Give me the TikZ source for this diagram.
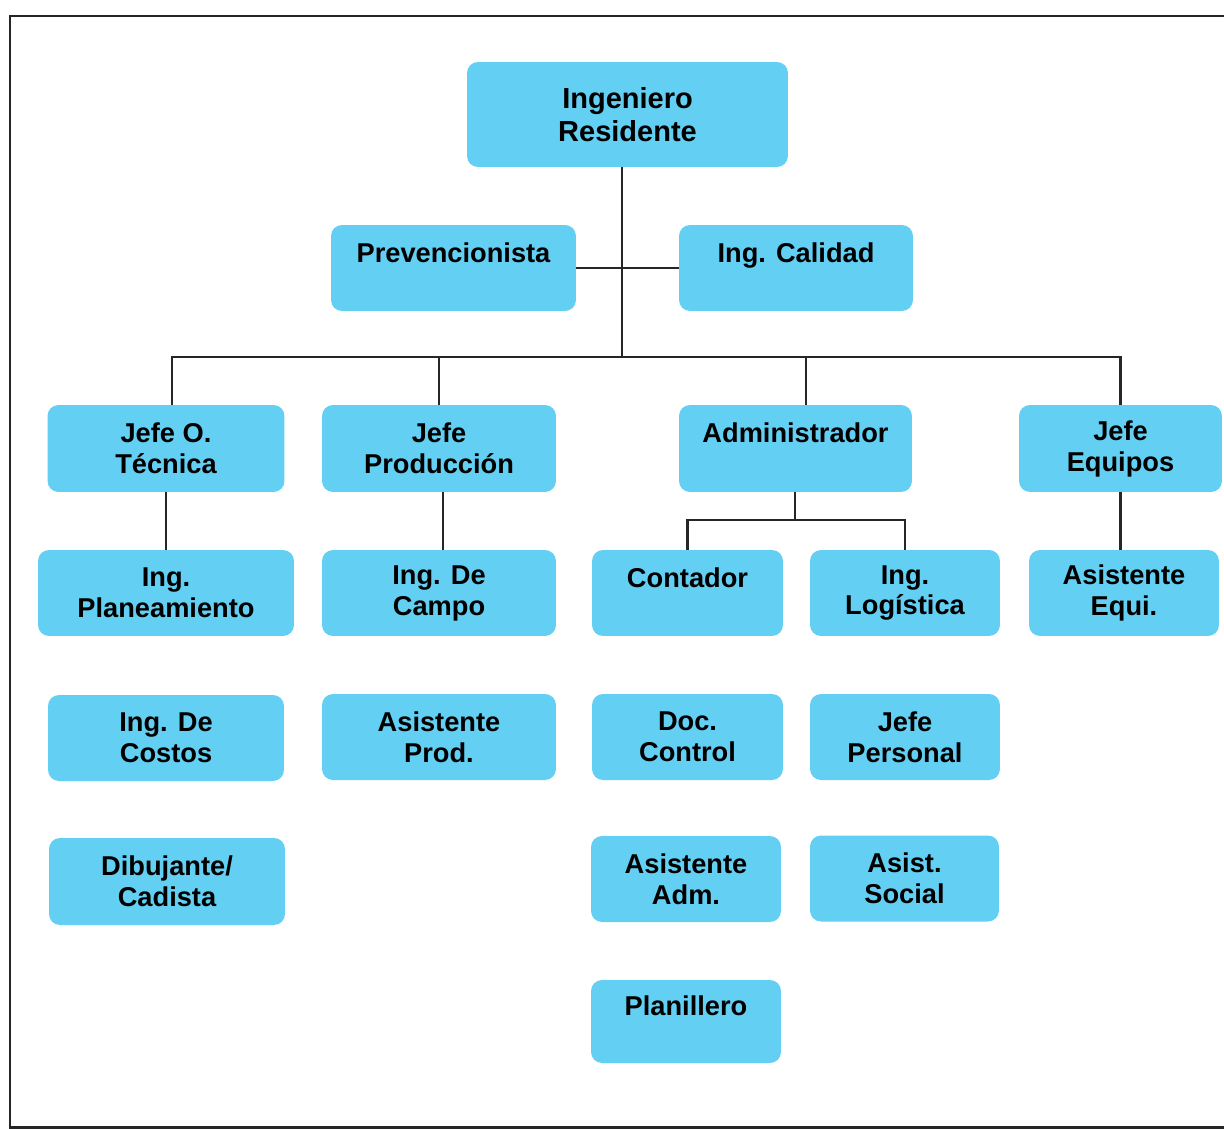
\documentclass[tikz,border=0pt]{standalone}
\usepackage{fontspec}
\setmainfont{Liberation Sans}
\usepackage{tikz}
\usetikzlibrary{positioning, calc}

\definecolor{boxblue}{RGB}{98,207,243}

\begin{document}
\begin{tikzpicture}[
  x=0.02cm, y=-0.02cm,
  box/.style={rectangle, rounded corners=0.22cm, fill=boxblue, align=center,
    minimum height=1.72cm, inner sep=0pt,
    font=\fontsize{15.5pt}{17.6pt}\selectfont\bfseries},
  link/.style={draw=black!85, line width=1.3pt},
  frame/.style={draw=black!85, line width=1.7pt}
]
  \useasboundingbox (0,0) rectangle (1224,1129);
  \draw[frame] (1224,16) -- (10,16) -- (10,1127) -- (1224,1127);

  % top
  \node[box, minimum width=6.42cm, minimum height=2.1cm,
        font=\fontsize{16.5pt}{18.8pt}\selectfont\bfseries]
        (res) at (627.5,114.5) {Ingeniero\\Residente};
  \node[box, minimum width=4.9cm] (prev) at (453.5,268) {Prevencionista\\\mbox{}};
  \node[box, minimum width=4.68cm] (cal) at (796,268) {Ing. Calidad\\\mbox{}};

  % second level
  \node[box, minimum width=4.74cm, minimum height=1.74cm] (tec) at (166,448.5) {Jefe O.\\Técnica};
  \node[box, minimum width=4.68cm, minimum height=1.74cm] (prod) at (439,448.5) {Jefe\\Producción};
  \node[box, minimum width=4.66cm, minimum height=1.74cm] (adm) at (795.5,448.5) {Administrador\\\mbox{}};
  \node[box, minimum width=4.06cm, minimum height=1.74cm] (equ) at (1120.5,448.5) {Jefe\\Equipos};

  % third level
  \node[box, minimum width=5.12cm] (plan) at (166,593) {Ing.\\Planeamiento};
  \node[box, minimum width=4.68cm] (campo) at (439,593) {Ing. De\\Campo};
  \node[box, minimum width=3.82cm] (cont) at (687.5,593) {Contador\\\mbox{}};
  \node[box, minimum width=3.8cm] (log) at (905,593) {Ing.\\Logística};
  \node[box, minimum width=3.8cm] (asieq) at (1124,593) {Asistente\\Equi.};

  % fourth level
  \node[box, minimum width=4.72cm] (cost) at (166,738) {Ing. De\\Costos};
  \node[box, minimum width=4.68cm] (asprod) at (439,737) {Asistente\\Prod.};
  \node[box, minimum width=3.82cm] (doc) at (687.5,737) {Doc.\\Control};
  \node[box, minimum width=3.8cm] (pers) at (905,737) {Jefe\\Personal};

  % fifth level
  \node[box, minimum width=4.72cm, minimum height=1.74cm] (dib) at (167,881.5) {Dibujante/\\Cadista};
  \node[box, minimum width=3.8cm] (asadm) at (686,879) {Asistente\\Adm.};
  \node[box, minimum width=3.78cm] (social) at (904.5,878.5) {Asist.\\Social};

  \node[box, minimum width=3.8cm, minimum height=1.66cm] (planil) at (686,1021.5) {Planillero\\\mbox{}};

  % connectors
  \coordinate (bus) at (622,357);
  \coordinate (busL) at (172,357);
  \coordinate (busA) at (806,357);
  \coordinate (admbus) at (795,520);

  \draw[link] (res.south -| bus) -- (bus);
  \draw[link] (prev.east) -- (cal.west);
  \draw[link] (busL |- tec.north) -- (busL) -- (bus -| equ.north) -- (equ.north);
  \draw[link] (prod.north) -- (prod.north |- bus);
  \draw[link] (busA) -- (busA |- adm.north);

  \draw[link] (tec.south) -- (plan.north);
  \draw[link] ([xshift=0.08cm]prod.south) -- ([xshift=0.08cm]campo.north);
  \draw[link] (adm.south -| admbus) -- (admbus);
  \draw[link] (cont.north) |- (admbus) -| (log.north);
  \draw[link] (equ.south) -- (equ.south |- asieq.north);
\end{tikzpicture}
\end{document}
